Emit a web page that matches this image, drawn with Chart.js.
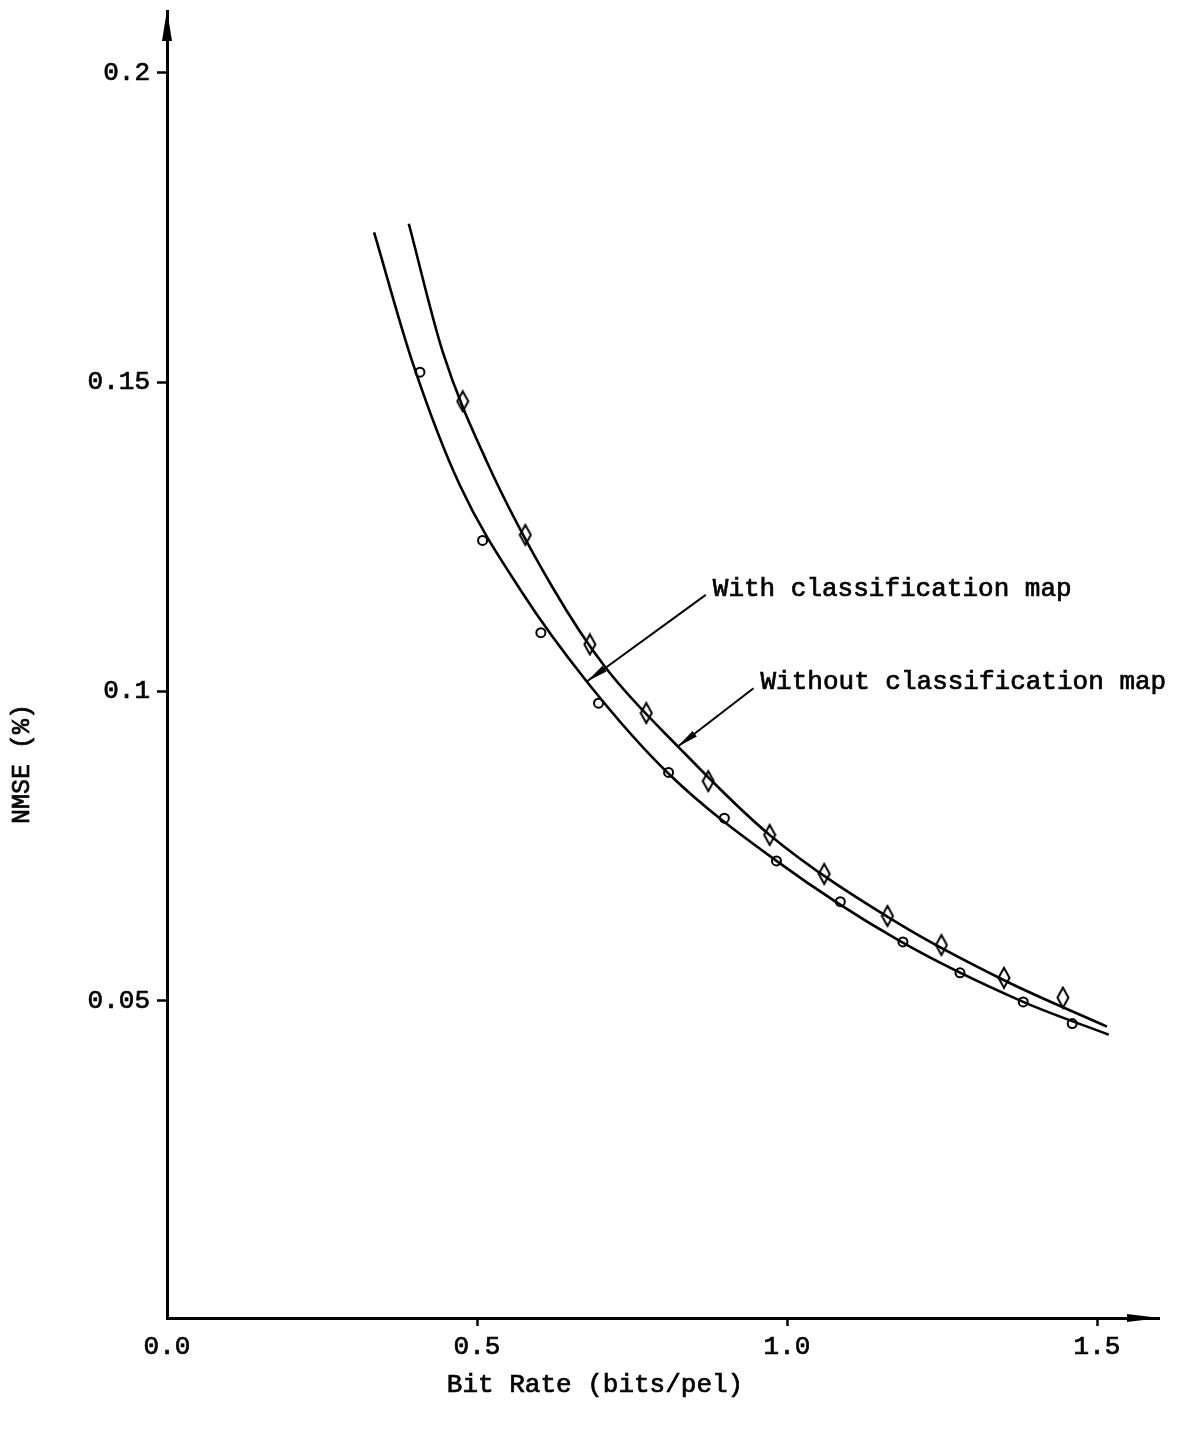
<!DOCTYPE html>
<html>
<head>
<meta charset="utf-8">
<title>NMSE vs Bit Rate</title>
<script src="https://cdn.jsdelivr.net/npm/chart.js@4.4.1/dist/chart.umd.min.js"></script>
<style>
  html, body { margin: 0; padding: 0; background: #fff; }
  #wrap { width: 1201px; height: 1431px; position: relative; }
</style>
</head>
<body>
<div id="wrap"><canvas id="nmse-chart"></canvas></div>
<script>
// 曲线数据 (bit rate in bits/pel, NMSE in %)
const withMapCurveX = [0.334, 0.396, 0.472, 0.572, 0.677, 0.810, 0.983, 1.181, 1.381, 1.519];
const withMapCurveY = [0.1742, 0.1532, 0.1334, 0.1161, 0.1016, 0.0866, 0.0726, 0.0597, 0.0498, 0.0445];

const withoutMapCurveX = [0.390, 0.445, 0.516, 0.622, 0.707, 0.827, 0.972, 1.181, 1.350, 1.516];
const withoutMapCurveY = [0.1756, 0.1548, 0.1371, 0.1168, 0.1039, 0.0908, 0.0768, 0.0624, 0.0533, 0.0458];

// 测量点
const withMapPointsX = [0.408, 0.509, 0.603, 0.696, 0.809, 0.899, 0.983, 1.086, 1.187, 1.279, 1.381, 1.460];
const withMapPointsY = [0.1516, 0.1244, 0.1095, 0.0981, 0.0869, 0.0795, 0.0726, 0.0660, 0.0595, 0.0545, 0.0498, 0.0463];

const withoutMapPointsX = [0.477, 0.578, 0.682, 0.773, 0.873, 0.972, 1.060, 1.162, 1.249, 1.350, 1.445];
const withoutMapPointsY = [0.1469, 0.1253, 0.1076, 0.0965, 0.0855, 0.0768, 0.0705, 0.0637, 0.0590, 0.0537, 0.0505];

// 坐标轴刻度
const xTickValues = [0, 0.5, 1.0, 1.5];
const xTickLabels = ['0.0', '0.5', '1.0', '1.5'];
const yTickValues = [0.05, 0.1, 0.15, 0.2];
const yTickLabels = ['0.05', '0.1', '0.15', '0.2'];

// 标注: 文字, 引线起点, 箭头指向的曲线点
const annoTexts = ['With classification map', 'Without classification map'];
const annoFrom = [[0.869, 0.1156], [0.946, 0.1005]];
const annoTo = [[0.677, 0.1016], [0.823, 0.0910]];

const FONT = '"Liberation Mono", "DejaVu Sans Mono", monospace';

function zip(xs, ys) {
    return xs.map((x, i) => ({ x: x, y: ys[i] }));
}

// 细长菱形标记
function makeDiamond() {
    const c = document.createElement('canvas');
    c.width = 14;
    c.height = 24;
    const g = c.getContext('2d');
    g.strokeStyle = '#000';
    g.lineWidth = 2;
    g.beginPath();
    g.moveTo(7, 2);
    g.lineTo(12.5, 12);
    g.lineTo(7, 22);
    g.lineTo(1.5, 12);
    g.closePath();
    g.stroke();
    return c;
}

function arrowHead(ctx, tipX, tipY, fromX, fromY, len, half) {
    const ang = Math.atan2(tipY - fromY, tipX - fromX);
    const bx = tipX - len * Math.cos(ang);
    const by = tipY - len * Math.sin(ang);
    ctx.beginPath();
    ctx.moveTo(tipX, tipY);
    ctx.lineTo(bx + half * Math.sin(ang), by - half * Math.cos(ang));
    ctx.lineTo(bx - half * Math.sin(ang), by + half * Math.cos(ang));
    ctx.closePath();
    ctx.fill();
}

function boldText(ctx, txt, x, y) {
    ctx.fillText(txt, x, y);
    ctx.strokeText(txt, x, y);
}

// 坐标轴箭头, 轴标题和引线标注
const decorPlugin = {
    id: 'decor',
    afterDraw(chart) {
        const ctx = chart.ctx;
        const { left, right, top, bottom } = chart.chartArea;
        const xs = chart.scales.x;
        const ys = chart.scales.y;
        ctx.save();
        ctx.fillStyle = '#000';
        ctx.strokeStyle = '#000';

        // y 轴箭头
        ctx.beginPath();
        ctx.moveTo(left, top - 1);
        ctx.lineTo(left + 5, top + 30);
        ctx.lineTo(left - 5, top + 30);
        ctx.closePath();
        ctx.fill();
        // x 轴箭头
        ctx.beginPath();
        ctx.moveTo(right + 1, bottom);
        ctx.lineTo(right - 32, bottom - 4);
        ctx.lineTo(right - 32, bottom + 4);
        ctx.closePath();
        ctx.fill();

        // 轴标题
        ctx.lineWidth = 0.7;
        ctx.font = '26px ' + FONT;
        ctx.textAlign = 'center';
        ctx.textBaseline = 'middle';
        boldText(ctx, 'Bit Rate (bits/pel)', left + 428, bottom + 67);
        ctx.save();
        ctx.translate(left - 145, top + 753);
        ctx.rotate(-Math.PI / 2);
        ctx.font = '25px ' + FONT;
        boldText(ctx, 'NMSE (%)', 0, 0);
        ctx.restore();

        // 引线标注
        ctx.font = '26px ' + FONT;
        ctx.textAlign = 'left';
        annoTexts.forEach((txt, i) => {
            const fx = xs.getPixelForValue(annoFrom[i][0]);
            const fy = ys.getPixelForValue(annoFrom[i][1]);
            const tx = xs.getPixelForValue(annoTo[i][0]);
            const ty = ys.getPixelForValue(annoTo[i][1]);
            ctx.lineWidth = 2;
            ctx.beginPath();
            ctx.moveTo(fx, fy);
            ctx.lineTo(tx, ty);
            ctx.stroke();
            arrowHead(ctx, tx, ty, fx, fy, 22, 3.5);
            ctx.lineWidth = 0.7;
            boldText(ctx, txt, fx + 7, fy - 6);
        });
        ctx.restore();
    }
};

const lineStyle = {
    showLine: true,
    pointRadius: 0,
    borderColor: '#000',
    borderWidth: 2.6,
    cubicInterpolationMode: 'monotone',
    fill: false
};

new Chart(document.getElementById('nmse-chart'), {
    type: 'scatter',
    data: {
        datasets: [
            Object.assign({ label: 'With classification map', data: zip(withMapCurveX, withMapCurveY) }, lineStyle),
            Object.assign({ label: 'Without classification map', data: zip(withoutMapCurveX, withoutMapCurveY) }, lineStyle),
            {
                label: 'With classification map (measured)',
                data: zip(withMapPointsX, withMapPointsY),
                pointStyle: 'circle',
                pointRadius: 4.5,
                borderColor: '#000',
                borderWidth: 2,
                backgroundColor: 'rgba(255,255,255,0)'
            },
            {
                label: 'Without classification map (measured)',
                data: zip(withoutMapPointsX, withoutMapPointsY),
                pointStyle: makeDiamond(),
                pointRadius: 10
            }
        ]
    },
    options: {
        responsive: true,
        maintainAspectRatio: false,
        animation: false,
        layout: { padding: { top: 8, right: 42, left: 0, bottom: 0 } },
        plugins: {
            legend: { display: false },
            tooltip: { enabled: false },
            title: { display: false }
        },
        scales: {
            x: {
                type: 'linear',
                min: 0,
                max: 1.6,
                afterBuildTicks: (scale) => { scale.ticks = xTickValues.map(v => ({ value: v })); },
                afterFit: (scale) => {
                    scale.height = 113;
                    scale.paddingLeft = 0;
                    scale.paddingRight = 0;
                },
                border: { display: true, color: '#000', width: 3 },
                grid: {
                    drawOnChartArea: false,
                    drawTicks: true,
                    tickLength: 8,
                    tickWidth: 2.5,
                    tickColor: (c) => (c.tick && c.tick.value === 0 ? 'rgba(0,0,0,0)' : '#000')
                },
                ticks: {
                    color: '#000',
                    padding: 6,
                    maxRotation: 0,
                    textStrokeColor: '#000',
                    textStrokeWidth: 0.7,
                    font: { family: FONT, size: 26 },
                    callback: (v, i) => xTickLabels[i]
                }
            },
            y: {
                type: 'linear',
                min: -0.0013,
                max: 0.21,
                afterBuildTicks: (scale) => { scale.ticks = yTickValues.map(v => ({ value: v })); },
                afterFit: (scale) => {
                    scale.width = 167;
                    scale.paddingTop = 0;
                    scale.paddingBottom = 0;
                },
                border: { display: true, color: '#000', width: 3 },
                grid: { drawOnChartArea: false, drawTicks: true, tickLength: 10, tickWidth: 2.5, tickColor: '#000' },
                ticks: {
                    color: '#000',
                    padding: 7,
                    textStrokeColor: '#000',
                    textStrokeWidth: 0.7,
                    font: { family: FONT, size: 26 },
                    callback: (v, i) => yTickLabels[i]
                }
            }
        }
    },
    plugins: [decorPlugin]
});
</script>
</body>
</html>
